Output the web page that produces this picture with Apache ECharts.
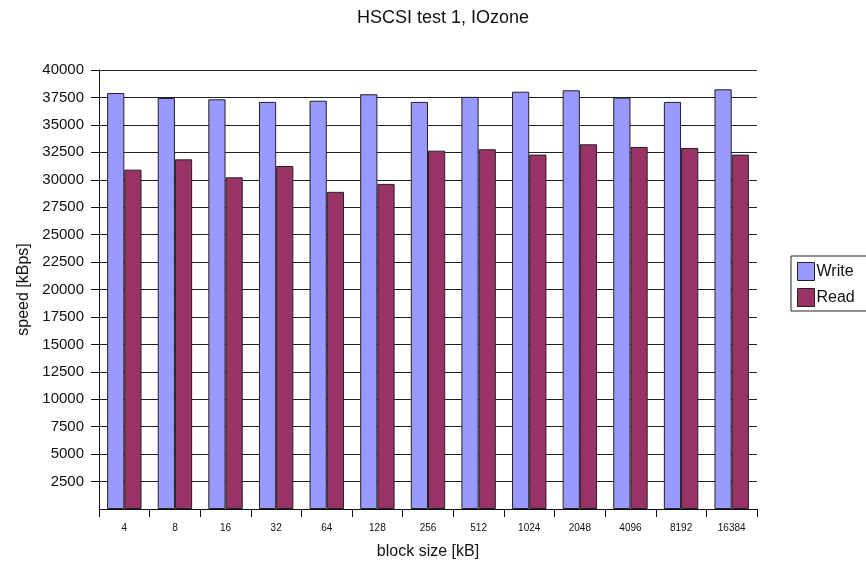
<!DOCTYPE html>
<html>
<head>
<meta charset="utf-8">
<script src="https://cdn.jsdelivr.net/npm/echarts@6/dist/echarts.min.js"></script>
<style>
  html, body { margin: 0; padding: 0; background: #fff; }
  #chart { width: 866px; height: 569px; }
</style>
</head>
<body>
<div id="chart"></div>
<script>
// Block sizes tested (kB)
const blockSizes = ['4', '8', '16', '32', '64', '128', '256', '512', '1024', '2048', '4096', '8192', '16384'];
// Throughput in kBps
const writeSpeed = [37900, 37450, 37330, 37090, 37200, 37790, 37090, 37550, 38020, 38150, 37480, 37090, 38240];
const readSpeed  = [30920, 31860, 30220, 31250, 28900, 29620, 32650, 32780, 32290, 33230, 32990, 32900, 32290];

const FONT = 'Liberation Sans, Arial, sans-serif';
const chart = echarts.init(document.getElementById('chart'), null, { renderer: 'canvas' });

chart.setOption({
  animation: false,
  backgroundColor: '#ffffff',
  title: {
    text: 'HSCSI test 1, IOzone',
    left: 438,
    top: 4,
    textAlign: 'center',
    textStyle: { fontFamily: FONT, fontSize: 18, fontWeight: 'normal', color: '#111' }
  },
  legend: {
    orient: 'vertical',
    left: 791,
    top: 256,
    padding: [6, 20, 4, 6],
    itemGap: 7,
    itemWidth: 17,
    itemHeight: 18,
    icon: 'rect',
    borderColor: '#222',
    borderWidth: 1,
    textStyle: { fontFamily: FONT, fontSize: 16, color: '#111', padding: [0, 0, 0, -3] },
    data: [
      { name: 'Write', itemStyle: { color: '#9999ff', borderColor: '#222', borderWidth: 1 } },
      { name: 'Read', itemStyle: { color: '#993366', borderColor: '#222', borderWidth: 1 } }
    ]
  },
  grid: { left: 99, right: 109, top: 70, bottom: 60, containLabel: false },
  xAxis: {
    type: 'category',
    data: blockSizes,
    name: 'block size [kB]',
    nameLocation: 'middle',
    nameGap: 35,
    nameTextStyle: { fontFamily: FONT, fontSize: 16, color: '#111' },
    axisLine: { show: true, lineStyle: { color: '#111', width: 1 } },
    axisTick: { show: true, length: 8, alignWithLabel: false, lineStyle: { color: '#111' } },
    axisLabel: { fontFamily: FONT, fontSize: 10, color: '#111', margin: 14 },
    splitLine: { show: false }
  },
  yAxis: {
    type: 'value',
    min: 0,
    max: 40000,
    interval: 2500,
    name: 'speed [kBps]',
    nameLocation: 'middle',
    nameRotate: 90,
    nameGap: 66,
    nameTextStyle: { fontFamily: FONT, fontSize: 16, color: '#111' },
    axisLine: { show: true, lineStyle: { color: '#111', width: 1 } },
    axisTick: { show: true, length: 8, lineStyle: { color: '#111' } },
    axisLabel: {
      fontFamily: FONT, fontSize: 15, color: '#111', margin: 15,
      showMinLabel: false,
      formatter: v => String(v)
    },
    splitLine: { show: true, lineStyle: { color: '#222', width: 1 } }
  },
  series: [
    {
      name: 'Write',
      type: 'bar',
      data: writeSpeed,
      barGap: '0%',
      barCategoryGap: '32%',
      itemStyle: { color: '#9999ff', borderColor: '#222', borderWidth: 1 }
    },
    {
      name: 'Read',
      type: 'bar',
      data: readSpeed,
      barGap: '0%',
      barCategoryGap: '32%',
      itemStyle: { color: '#993366', borderColor: '#222', borderWidth: 1 }
    }
  ]
});
</script>
</body>
</html>
